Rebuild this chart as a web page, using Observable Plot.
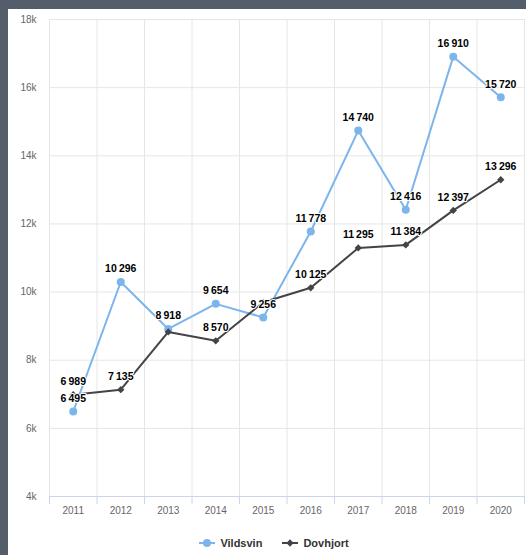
<!DOCTYPE html>
<html>
<head>
<meta charset="utf-8">
<script src="https://cdn.jsdelivr.net/npm/d3@7"></script>
<script src="https://cdn.jsdelivr.net/npm/@observablehq/plot@0.6"></script>
<style>
  html, body { margin: 0; padding: 0; }
  body { width: 526px; height: 555px; background: #535e6a; position: relative; overflow: hidden;
         font-family: "Liberation Sans", Arial, sans-serif; }
  #card { position: absolute; left: 8px; top: 9px; width: 518px; height: 546px; background: #fff; }
  #chart svg { display: block; }
  #legend { height: 30px; display: flex; align-items: center; justify-content: center; padding-left: 14px;
            font-size: 11px; font-weight: bold; color: #333; }
  .item { display: flex; align-items: center; margin: 0 10px; }
  .item svg { margin-right: 5px; }
</style>
</head>
<body>
<div id="card">
  <div id="chart"></div>
  <div id="legend"></div>
</div>
<script>
const years = [2011, 2012, 2013, 2014, 2015, 2016, 2017, 2018, 2019, 2020];
const vildsvin = [6495, 10296, 8918, 9654, 9256, 11778, 14740, 12416, 16910, 15720];
const dovhjort = [6989, 7135, 8830, 8570, 9700, 10125, 11295, 11384, 12397, 13296];
const seriesNames = ["Vildsvin", "Dovhjort"];
const seriesColors = ["#7cb5ec", "#434348"];
const yTicks = [4000, 6000, 8000, 10000, 12000, 14000, 16000, 18000];
const hiddenLabels = [["Dovhjort", 2013], ["Dovhjort", 2015]];

const rows = [];
years.forEach((yr, i) => {
  rows.push({series: "Vildsvin", year: yr, value: vildsvin[i]});
  rows.push({series: "Dovhjort", year: yr, value: dovhjort[i]});
});
const labelRows = rows.filter(r => !hiddenLabels.some(([s, y]) => s === r.series && y === r.year));
const edges = [years[0] - 0.5, ...years.map(y => y + 0.5)];
const fmt = d3.formatLocale({thousands: "\u2009", grouping: [3], decimal: ".", currency: ["", ""]}).format(",");

const chart = Plot.plot({
  width: 518,
  height: 519,
  marginLeft: 41,
  marginRight: 2,
  marginTop: 10,
  marginBottom: 32,
  style: {fontFamily: "'Liberation Sans', Arial, sans-serif", background: "#fff"},
  x: {domain: [edges[0], edges[edges.length - 1]], axis: null},
  y: {domain: [yTicks[0], yTicks[yTicks.length - 1]], axis: null},
  color: {domain: seriesNames, range: seriesColors},
  marks: [
    Plot.ruleY(yTicks.slice(1), {stroke: "#e6e6e6", strokeWidth: 1}),
    Plot.ruleX(edges, {stroke: "#e6e6e6", strokeWidth: 1}),
    Plot.axisX({ticks: edges, tickSize: 8, tickFormat: () => "", label: null, stroke: "#ccd6eb", strokeOpacity: 1}),
    Plot.ruleY([yTicks[0]], {stroke: "#ccd6eb", strokeWidth: 1}),
    Plot.axisX({ticks: years, tickSize: 0, tickPadding: 10, label: null, tickFormat: d => String(d), fontSize: 10, fill: "#666"}),
    Plot.axisY({ticks: yTicks, tickSize: 0, tickPadding: 13, label: null, tickFormat: d => (d / 1000) + "k", fontSize: 10, fill: "#666"}),
    Plot.line(rows, {x: "year", y: "value", z: "series", stroke: "series", strokeWidth: 2}),
    Plot.dot(rows.filter(r => r.series === "Vildsvin"), {x: "year", y: "value", r: 4, fill: seriesColors[0], symbol: "circle"}),
    Plot.dot(rows.filter(r => r.series === "Dovhjort"), {x: "year", y: "value", r: 3.3, fill: seriesColors[1], symbol: "diamond2"}),
    Plot.text(labelRows, {x: "year", y: "value", text: d => fmt(d.value), dy: -13, fontSize: 10.5, fontWeight: "bold",
      fill: "#000", stroke: "#fff", strokeWidth: 2, paintOrder: "stroke"})
  ]
});
document.getElementById("chart").appendChild(chart);

const legend = document.getElementById("legend");
seriesNames.forEach((name, i) => {
  const item = document.createElement("div");
  item.className = "item";
  const sym = d3.create("svg").attr("width", 16).attr("height", 12);
  sym.append("line").attr("x1", 0).attr("x2", 16).attr("y1", 6).attr("y2", 6)
    .attr("stroke", seriesColors[i]).attr("stroke-width", 2);
  sym.append("path").attr("transform", "translate(8,6)")
    .attr("d", d3.symbol(i === 0 ? d3.symbolCircle : d3.symbolDiamond2, i === 0 ? 50 : 34)())
    .attr("fill", seriesColors[i]);
  item.appendChild(sym.node());
  const t = document.createElement("span");
  t.textContent = name;
  item.appendChild(t);
  legend.appendChild(item);
});
</script>
</body>
</html>
